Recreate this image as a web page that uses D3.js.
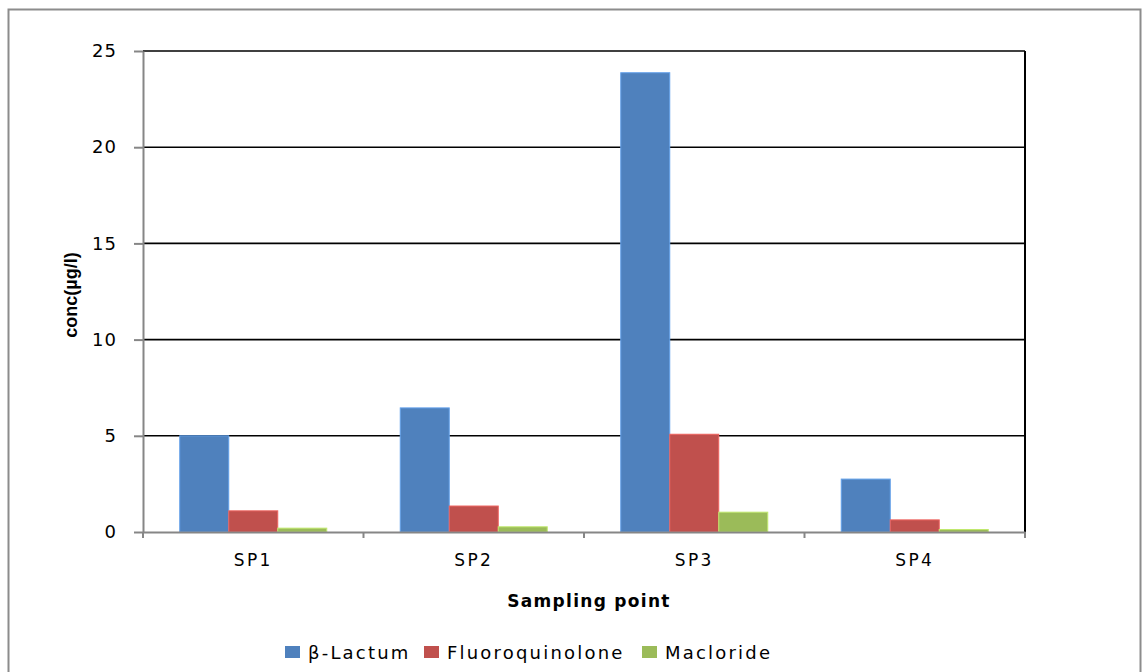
<!DOCTYPE html>
<html>
<head>
<meta charset="utf-8">
<script src="https://cdn.jsdelivr.net/npm/d3@7"></script>
<style>
  html, body { margin: 0; padding: 0; background: #fff; }
  svg { display: block; }
</style>
</head>
<body>
<svg id="chart" width="1143" height="672"></svg>
<script>
// Antibiotic concentrations by sampling point
const categories = ["SP1", "SP2", "SP3", "SP4"];
const seriesNames = ["β-Lactum", "Fluoroquinolone", "Macloride"];
const betaLactum = [5.0, 6.45, 23.87, 2.75];
const fluoroquinolone = [1.1, 1.35, 5.08, 0.63];
const macloride = [0.2, 0.27, 1.03, 0.13];
const yTicks = [0, 5, 10, 15, 20, 25];
const colors = ["#4F81BD", "#C0504D", "#9BBB59"];

const seriesValues = [betaLactum, fluoroquinolone, macloride];

const svg = d3.select("#chart");
const plot = { left: 143, right: 1025, top: 51, bottom: 532 };

// outer chart frame
svg.append("rect")
  .attr("x", 8.5).attr("y", 9.5)
  .attr("width", 1132).attr("height", 700)
  .attr("fill", "#fff").attr("stroke", "#8c8c8c").attr("stroke-width", 2);

const x = d3.scaleBand().domain(categories).range([plot.left, plot.right]).paddingInner(0).paddingOuter(0);
// 150% gap width: three bars share 2/3 of each category
const x1 = d3.scaleBand().domain(seriesNames).range([0, x.bandwidth()]).paddingInner(0).paddingOuter(0.75);
const y = d3.scaleLinear().domain([0, 25]).range([plot.bottom, plot.top]);

// horizontal gridlines
svg.append("g")
  .selectAll("line")
  .data(yTicks.filter(t => t > 0))
  .join("line")
  .attr("x1", plot.left).attr("x2", plot.right)
  .attr("y1", d => y(d)).attr("y2", d => y(d))
  .attr("stroke", "#000").attr("stroke-width", 1.6);

// right border of the plot area
svg.append("line")
  .attr("x1", plot.right).attr("x2", plot.right)
  .attr("y1", plot.top).attr("y2", plot.bottom)
  .attr("stroke", "#000").attr("stroke-width", 2);

// bars
const groups = svg.append("g")
  .selectAll("g")
  .data(categories)
  .join("g")
  .attr("transform", d => `translate(${x(d)},0)`);

groups.selectAll("rect")
  .data((c, i) => seriesNames.map((s, k) => ({ s, k, v: seriesValues[k][i] })))
  .join("rect")
  .attr("x", d => x1(d.s))
  .attr("y", d => y(d.v))
  .attr("width", x1.bandwidth())
  .attr("height", d => y(0) - y(d.v))
  .attr("fill", d => colors[d.k])
  .attr("stroke", d => d3.color(colors[d.k]).brighter(0.6))
  .attr("stroke-width", 1);

// y axis
const yAxis = svg.append("g")
  .attr("transform", `translate(${plot.left},0)`)
  .call(d3.axisLeft(y).tickValues(yTicks).tickSize(9).tickPadding(17).tickSizeOuter(0));
yAxis.select(".domain").attr("stroke", "#868686").attr("stroke-width", 2);
yAxis.selectAll(".tick line").attr("stroke", "#868686").attr("stroke-width", 2);
yAxis.selectAll(".tick text")
  .attr("fill", "#000")
  .style("font-family", "'DejaVu Sans', Verdana, sans-serif")
  .style("font-size", "18px")
  .style("letter-spacing", "1px");

// x axis
const xAxis = svg.append("g")
  .attr("transform", `translate(0,${plot.bottom})`)
  .call(d3.axisBottom(x).tickSize(0).tickPadding(22));
xAxis.select(".domain").attr("stroke", "#868686").attr("stroke-width", 2);
xAxis.selectAll(".tick text")
  .attr("fill", "#000")
  .style("font-family", "'DejaVu Sans', Verdana, sans-serif")
  .style("font-size", "17px")
  .style("letter-spacing", "2.4px");

// category boundary ticks
const boundaries = categories.map(c => x(c)).concat([plot.right]);
svg.append("g")
  .selectAll("line")
  .data(boundaries)
  .join("line")
  .attr("x1", d => d).attr("x2", d => d)
  .attr("y1", plot.bottom).attr("y2", plot.bottom + 6)
  .attr("stroke", "#868686").attr("stroke-width", 2);

// axis titles
svg.append("text")
  .attr("x", (plot.left + plot.right) / 2 + 5)
  .attr("y", 607)
  .attr("text-anchor", "middle")
  .style("font-family", "'DejaVu Sans', Verdana, sans-serif")
  .style("font-weight", "bold")
  .style("font-size", "17px")
  .style("letter-spacing", "1.3px")
  .text("Sampling point");

svg.append("text")
  .attr("transform", "translate(77,295) rotate(-90)")
  .attr("text-anchor", "middle")
  .style("font-family", "'Liberation Sans', Arial, sans-serif")
  .style("font-weight", "bold")
  .style("font-size", "18px")
  .text("conc(µg/l)");

// legend
const legendItems = [
  { name: seriesNames[0], sx: 285 },
  { name: seriesNames[1], sx: 424 },
  { name: seriesNames[2], sx: 642 }
];
const legend = svg.append("g");
legend.selectAll("rect")
  .data(legendItems)
  .join("rect")
  .attr("x", d => d.sx).attr("y", 646)
  .attr("width", 15).attr("height", 12)
  .attr("fill", (d, i) => colors[i]);
legend.selectAll("text")
  .data(legendItems)
  .join("text")
  .attr("x", d => d.sx + 23)
  .attr("y", 659)
  .style("font-family", "'DejaVu Sans', Verdana, sans-serif")
  .style("font-size", "18px")
  .style("letter-spacing", "2.2px")
  .text(d => d.name);
</script>
</body>
</html>
